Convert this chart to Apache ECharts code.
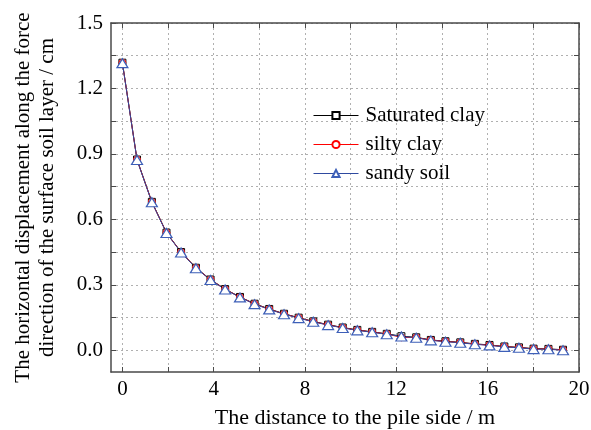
<!DOCTYPE html>
<html>
<head>
<meta charset="utf-8">
<script src="https://cdn.jsdelivr.net/npm/echarts@6/dist/echarts.min.js"></script>
<style>
  html, body { margin: 0; padding: 0; background: #fff; }
  #chart { width: 591px; height: 430px; }
</style>
</head>
<body>
<div id="chart"></div>
<script>
// Distance from the pile side (m)
const distance = [0, 0.64, 1.29, 1.93, 2.57, 3.22, 3.86, 4.50, 5.15, 5.79, 6.43,
  7.08, 7.72, 8.36, 9.01, 9.65, 10.29, 10.94, 11.58, 12.22, 12.87, 13.51,
  14.15, 14.80, 15.44, 16.08, 16.73, 17.37, 18.01, 18.66, 19.30];

// Horizontal displacement of the surface soil layer (cm)
const saturatedClay = [1.318, 0.874, 0.680, 0.539, 0.450, 0.378, 0.324, 0.280, 0.244, 0.213,
  0.189, 0.167, 0.149, 0.132, 0.117, 0.104, 0.093, 0.084, 0.075, 0.064, 0.059,
  0.047, 0.041, 0.036, 0.029, 0.024, 0.017, 0.013, 0.007, 0.006, 0.002];
const siltyClay = [1.317, 0.873, 0.679, 0.538, 0.449, 0.377, 0.323, 0.279, 0.243, 0.212,
  0.188, 0.166, 0.148, 0.131, 0.116, 0.103, 0.092, 0.083, 0.074, 0.059, 0.058,
  0.046, 0.040, 0.035, 0.028, 0.023, 0.016, 0.012, 0.006, 0.005, 0.001];
const sandySoil = [1.316, 0.872, 0.678, 0.537, 0.448, 0.376, 0.322, 0.278, 0.242, 0.211,
  0.187, 0.165, 0.147, 0.130, 0.115, 0.102, 0.091, 0.082, 0.073, 0.063, 0.057,
  0.045, 0.039, 0.034, 0.027, 0.022, 0.015, 0.011, 0.005, 0.004, 0.000];

const seriesNames = ['Saturated clay', 'silty clay', 'sandy soil'];

// Axis tick positions and labels
const xGridValues = [0, 2, 4, 6, 8, 10, 12, 14, 16, 18, 20];
const xLabelValues = [0, 4, 8, 12, 16, 20];
const yGridValues = [0, 0.15, 0.3, 0.45, 0.6, 0.75, 0.9, 1.05, 1.2, 1.35, 1.5];
const yLabelValues = [0, 0.3, 0.6, 0.9, 1.2, 1.5];

const FONT = 'Liberation Serif';
const frame = { show: true, onZero: false, lineStyle: { color: '#4a4a4a', width: 1.5 } };
const tickStyle = { lineStyle: { color: '#4a4a4a', width: 1 } };
const gridLine = { show: true, lineStyle: { color: '#b0b0b0', width: 1, type: [2, 3] } };

function pairs(ys) { return distance.map((x, i) => [x, ys[i]]); }

const chart = echarts.init(document.getElementById('chart'), null, { renderer: 'canvas' });
chart.setOption({
  animation: false,
  backgroundColor: '#fff',
  grid: { left: 111, right: 12, top: 23, bottom: 58, outerBoundsMode: 'none', containLabel: false },
  legend: {
    left: 308, top: 100, orient: 'vertical',
    itemWidth: 45, itemHeight: 9, itemGap: 8,
    data: seriesNames,
    lineStyle: { width: 1 },
    textStyle: { fontFamily: FONT, fontSize: 21, color: '#000', padding: [0, 0, 0, 2] }
  },
  xAxis: [
    {
      type: 'value', position: 'bottom', min: -0.5, max: 20,
      name: 'The distance to the pile side / m', nameLocation: 'middle', nameGap: 35,
      nameTextStyle: { fontFamily: FONT, fontSize: 22, color: '#000', padding: [0, 0, 0, 20] },
      axisLine: frame,
      axisTick: Object.assign({ show: true, inside: true, length: 5, customValues: xGridValues }, tickStyle),
      axisLabel: { customValues: xLabelValues, margin: 7, fontFamily: FONT, fontSize: 21, color: '#000' },
      splitLine: gridLine
    },
    {
      type: 'value', position: 'top', min: -0.5, max: 20,
      axisLine: frame,
      axisTick: Object.assign({ show: true, inside: true, length: 5, customValues: xGridValues }, tickStyle),
      axisLabel: { show: false }, splitLine: { show: false }
    }
  ],
  yAxis: [
    {
      type: 'value', position: 'left', min: -0.1, max: 1.5,
      name: 'The horizontal displacement along the force\ndirection of the surface soil layer / cm',
      nameLocation: 'middle', nameGap: 52, nameRotate: 90,
      nameTextStyle: { fontFamily: FONT, fontSize: 21, color: '#000', lineHeight: 24 },
      axisLine: frame,
      axisTick: Object.assign({ show: true, inside: true, length: 5, customValues: yGridValues }, tickStyle),
      axisLabel: {
        customValues: yLabelValues, margin: 8, fontFamily: FONT, fontSize: 21, color: '#000',
        formatter: v => v.toFixed(1)
      },
      splitLine: gridLine
    },
    {
      type: 'value', position: 'right', min: -0.1, max: 1.5,
      axisLine: frame,
      axisTick: Object.assign({ show: true, inside: true, length: 5, customValues: yGridValues }, tickStyle),
      axisLabel: { show: false }, splitLine: { show: false }
    }
  ],
  series: [
    {
      name: seriesNames[0], type: 'line', data: pairs(saturatedClay),
      symbol: 'rect', symbolSize: 7, showAllSymbol: true,
      lineStyle: { color: '#000', width: 1 },
      itemStyle: { color: '#fff', borderColor: '#000', borderWidth: 1 }
    },
    {
      name: seriesNames[1], type: 'line', data: pairs(siltyClay),
      symbol: 'circle', symbolSize: 7, showAllSymbol: true,
      lineStyle: { color: '#ff0000', width: 1 },
      itemStyle: { color: '#fff', borderColor: '#ff0000', borderWidth: 1 }
    },
    {
      name: seriesNames[2], type: 'line', data: pairs(sandySoil),
      symbol: 'triangle', symbolSize: [11, 9], showAllSymbol: true,
      lineStyle: { color: '#2f4aa0', width: 1 },
      itemStyle: { color: '#fff', borderColor: '#3d5fb8', borderWidth: 1.2 }
    }
  ]
});
</script>
</body>
</html>
